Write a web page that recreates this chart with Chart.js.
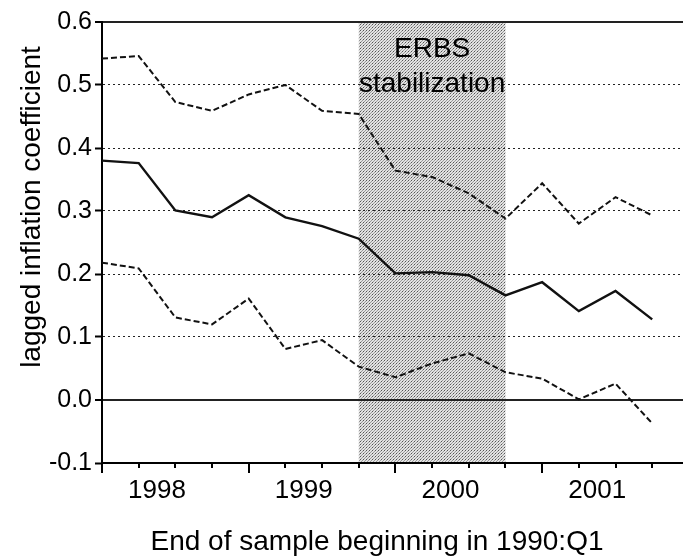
<!DOCTYPE html>
<html>
<head>
<meta charset="utf-8">
<script src="https://cdn.jsdelivr.net/npm/chart.js@4/dist/chart.umd.min.js"></script>
<style>
  html, body { margin: 0; padding: 0; background: #fff; }
  canvas { display: block; }
</style>
</head>
<body>
<canvas id="chart" width="683" height="557"></canvas>
<script>
// --- data (quarterly, end of sample) ---
const quarters = ['1998:1','1998:2','1998:3','1998:4','1999:1','1999:2','1999:3','1999:4',
                  '2000:1','2000:2','2000:3','2000:4','2001:1','2001:2','2001:3','2001:4'];
const years = ['1998','1999','2000','2001'];
const upperBand = [0.542,0.546,0.473,0.459,0.485,0.500,0.459,0.454,0.364,0.354,0.328,0.288,0.344,0.280,0.322,0.293];
const coefficient = [0.380,0.376,0.301,0.290,0.325,0.290,0.276,0.256,0.201,0.203,0.198,0.166,0.187,0.141,0.173,0.128];
const lowerBand = [0.218,0.209,0.131,0.120,0.161,0.081,0.095,0.053,0.036,0.058,0.074,0.044,0.034,0.001,0.026,-0.037];
const yTicks = [-0.1,0.0,0.1,0.2,0.3,0.4,0.5,0.6];
const erbsPeriod = ['1999:4','2000:4'];
const erbsText = ['ERBS','stabilization'];

const FONT = "'Liberation Sans', Arial, sans-serif";

// position of a quarter on the linear x axis
const qIndex = q => quarters.indexOf(q);
const toPoints = arr => arr.map((v,i)=>({x:i, y:v}));
// year labels sit in the middle of each year's ticks
const yearPos = years.map(y => qIndex(y+':2') + 0.5);

// stippled grey for the shaded period (scanned dot screen look)
function stipple(){
  const c = document.createElement('canvas'); c.width = 3; c.height = 3;
  const g = c.getContext('2d');
  g.fillStyle = '#e2e2e2'; g.fillRect(0,0,3,3);
  g.fillStyle = '#555'; g.fillRect(0,0,1,1);
  g.fillStyle = '#999'; g.fillRect(1,2,1,1); g.fillRect(2,1,1,1);
  return g.createPattern(c,'repeat');
}

const decor = {
  id: 'decor',
  beforeDraw(chart){
    const {ctx, chartArea:a, scales:{x}} = chart;
    const x0 = x.getPixelForValue(qIndex(erbsPeriod[0]));
    const x1 = x.getPixelForValue(qIndex(erbsPeriod[1]));
    ctx.save();
    ctx.fillStyle = stipple();
    ctx.fillRect(x0, a.top, x1-x0, a.bottom-a.top);
    ctx.restore();
  },
  afterDraw(chart){
    const {ctx, chartArea:a, scales:{x}} = chart;
    ctx.save();
    // quarter tick marks, longer at year boundaries
    ctx.strokeStyle = '#000'; ctx.lineWidth = 2;
    quarters.forEach((q,i)=>{
      const px = Math.round(x.getPixelForValue(i));
      const len = q.endsWith(':1') ? 10 : 5;
      ctx.beginPath(); ctx.moveTo(px, a.bottom); ctx.lineTo(px, a.bottom+len); ctx.stroke();
    });
    // label inside the shaded band
    const xc = (x.getPixelForValue(qIndex(erbsPeriod[0])) + x.getPixelForValue(qIndex(erbsPeriod[1])))/2;
    ctx.fillStyle = '#000';
    ctx.font = '28px ' + FONT;
    ctx.textAlign = 'center'; ctx.textBaseline = 'alphabetic';
    ctx.fillText(erbsText[0], xc, a.top + 35);
    ctx.fillText(erbsText[1], xc, a.top + 70);
    // axis titles
    ctx.font = '28px ' + FONT;
    ctx.fillText('End of sample beginning in 1990:Q1', 377, 550);
    ctx.translate(40, 207);
    ctx.rotate(-Math.PI/2);
    ctx.font = '28px ' + FONT;
    ctx.fillText('lagged inflation coefficient', 0, 0);
    ctx.restore();
  }
};

const line = (data, dash, width) => ({
  data: toPoints(data), borderColor: '#111', borderWidth: width, borderDash: dash,
  pointRadius: 0, tension: 0, fill: false
});

new Chart(document.getElementById('chart'), {
  type: 'line',
  data: {
    datasets: [
      line(upperBand, [6,3], 2),
      line(coefficient, [], 2.4),
      line(lowerBand, [6,3], 2)
    ]
  },
  options: {
    responsive: false,
    devicePixelRatio: 1,
    animation: false,
    layout: { padding: { top: 22, right: 0, left: 0, bottom: 0 } },
    plugins: { legend: { display: false }, tooltip: { enabled: false } },
    scales: {
      x: {
        type: 'linear', min: 0, max: 15.84,
        afterFit: s => { s.height = 94; },
        afterBuildTicks: s => { s.ticks = yearPos.map(v => ({value: v})); },
        grid: { drawOnChartArea: false, drawTicks: false },
        border: { display: true, color: '#000', width: 2 },
        ticks: {
          padding: 12, color: '#000', maxRotation: 0, autoSkip: false,
          font: { family: FONT, size: 26 },
          callback: v => years[yearPos.indexOf(v)] || ''
        }
      },
      y: {
        min: yTicks[0], max: yTicks[yTicks.length-1],
        afterFit: s => { s.width = 102; },
        afterBuildTicks: s => { s.ticks = yTicks.map(v => ({value: v})); },
        grid: {
          color: c => (c.tick && c.tick.value === yTicks[0]) ? 'rgba(0,0,0,0)' : '#222',
          lineWidth: c => (c.tick && (c.tick.value === 0 || c.tick.value === 0.6)) ? 2 : 1,
          tickColor: '#000', tickWidth: 2, tickLength: 7, tickBorderDash: []
        },
        border: {
          display: true, color: '#000', width: 2,
          dash: c => (c.tick && (c.tick.value === 0 || c.tick.value === 0.6)) ? [] : [2,3]
        },
        ticks: {
          padding: 3, color: '#000',
          font: { family: FONT, size: 25 },
          callback: v => v.toFixed(1)
        }
      }
    }
  },
  plugins: [decor]
});
</script>
</body>
</html>
